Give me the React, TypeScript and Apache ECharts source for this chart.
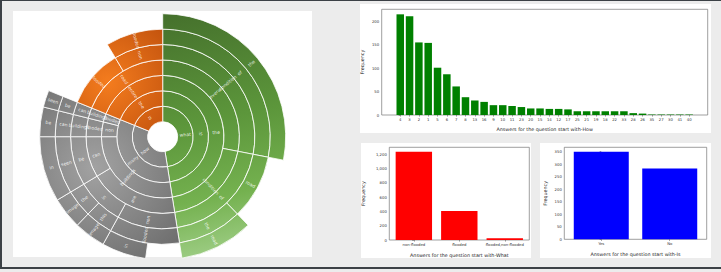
import React, { useEffect, useRef } from "react";
import * as echarts from "echarts";

// ---------- DATA ----------
const questionPaths: string[][] = [
  ["what", "is", "the", "overall", "condition", "of", "the"],
  ["what", "is", "the", "condition", "of", "road"],
  ["what", "is", "the", "condition", "of", "the", "road"],
  ["how", "many", "buildings", "are", "non", "flooded"],
  ["how", "many", "buildings", "are", "non", "flooded", "in"],
  ["how", "many", "buildings", "are", "in", "this", "image"],
  ["how", "many", "buildings", "are", "in", "the", "image"],
  ["how", "many", "buildings", "can", "be", "seen", "in"],
  ["how", "many", "non", "flooded", "buildings", "can", "be"],
  ["how", "many", "flooded", "buildings", "can", "be", "seen"],
  ["is", "the", "entire", "road", "flooded"],
  ["is", "the", "entire", "road", "non", "flooded"],
];
const pathCounts = [101, 35, 35, 17, 21, 15, 15, 31, 14, 8, 37, 31];

const howAnswers = ["4", "3", "2", "1", "5", "6", "7", "8", "13", "16", "9", "10", "11", "23", "20", "15", "14", "12", "17", "25", "21", "19", "18", "22", "33", "28", "26", "35", "27", "30", "41", "40"];
const howCounts = [215, 211, 155, 154, 101, 87, 61, 38, 31, 28, 21, 21, 19, 17, 14, 14, 13, 13, 12, 8, 8, 8, 8, 8, 8, 4, 3, 1, 1, 1, 1, 1];
const howTicks = [0, 50, 100, 150, 200];

const whatAnswers = ["non-flooded", "flooded", "flooded,non-flooded"];
const whatCounts = [1233, 405, 25];
const whatTicks = [0, 200, 400, 600, 800, 1000, 1200];

const isAnswers = ["Yes", "No"];
const isCounts = [350, 283];
const isTicks = [0, 50, 100, 150, 200, 250, 300, 350];

// ---------- HELPERS ----------
type TNode = { name: string; value: number; children: TNode[]; dummy?: boolean };

function buildTree(): TNode[] {
  const root: TNode = { name: "", value: 0, children: [] };
  questionPaths.forEach((path, i) => {
    let node = root;
    path.forEach((w) => {
      let c = node.children.find((n) => n.name === w && !n.dummy);
      if (!c) {
        c = { name: w, value: 0, children: [] };
        node.children.push(c);
      }
      c.value += pathCounts[i];
      node = c;
    });
    let d = node.children.find((n) => n.dummy);
    if (!d) {
      d = { name: "", value: 0, children: [], dummy: true };
      node.children.push(d);
    }
    d.value += pathCounts[i];
  });
  return root.children;
}

const FONT = "DejaVu Sans";

export default function App() {
  const ref = useRef<HTMLDivElement>(null);

  useEffect(() => {
    if (!ref.current) return;
    const chart = echarts.init(ref.current, null, { renderer: "svg" });

    const G = echarts.graphic as any;
    const green = new G.LinearGradient(163, 13, 215, 262, [
      { offset: 0, color: "#45702c" },
      { offset: 0.45, color: "#5c963b" },
      { offset: 0.75, color: "#74b14f" },
      { offset: 1, color: "#a2d08a" },
    ], true);
    const grey = new G.RadialGradient(95, 168, 115, [
      { offset: 0, color: "#a2a2a2" },
      { offset: 1, color: "#6c6c6c" },
    ], true);
    const orange = new G.RadialGradient(108, 82, 75, [
      { offset: 0, color: "#f47c1e" },
      { offset: 1, color: "#c4540e" },
    ], true);
    const colorOf: Record<string, any> = { what: green, how: grey, is: orange };

    const toData = (nodes: TNode[], color: any): any[] => {
      const onlyDummy = (n: TNode) => n.children.length === 1 && n.children[0].dummy;
      return nodes.map((n) => {
        const c = color ?? colorOf[n.name];
        if (n.dummy) {
          return {
            name: "",
            value: n.value,
            itemStyle: { color: "rgba(0,0,0,0)", borderWidth: 0 },
            label: { show: false },
            emphasis: { disabled: true },
          };
        }
        const out: any = { name: n.name, value: n.value, itemStyle: { color: c } };
        if (n.children.length && !onlyDummy(n)) out.children = toData(n.children, c);
        return out;
      });
    };

    const sunData = toData(buildTree(), null);

    const axisText = { fontFamily: FONT, fontSize: 3.8, color: "#333" };
    const nameText = { fontFamily: FONT, fontSize: 4.8, color: "#222" };

    const mkX = (gi: number, labels: string[], min: number, max: number, name: string, gap: number) => ({
      type: "value",
      gridIndex: gi,
      min,
      max,
      axisLine: { show: false },
      splitLine: { show: false },
      axisTick: { show: true, length: 1.6, customValues: labels.map((_, i) => i), lineStyle: { color: "#444", width: 0.5 } },
      axisLabel: {
        ...axisText,
        margin: 2.5,
        customValues: labels.map((_, i) => i),
        formatter: (v: number) => labels[Math.round(v)] ?? "",
      },
      name,
      nameLocation: "middle",
      nameGap: gap,
      nameTextStyle: nameText,
    });
    const mkY = (gi: number, ticks: number[], max: number, gap: number) => ({
      type: "value",
      gridIndex: gi,
      min: 0,
      max,
      axisLine: { show: false },
      splitLine: { show: false },
      axisTick: { show: true, length: 1.6, customValues: ticks, lineStyle: { color: "#444", width: 0.5 } },
      axisLabel: { ...axisText, margin: 2.5, customValues: ticks },
      name: "Frequency",
      nameLocation: "middle",
      nameRotate: 90,
      nameGap: gap,
      nameTextStyle: nameText,
    });

    const gridBox = { show: true, borderColor: "#777", borderWidth: 0.7, backgroundColor: "#fff", containLabel: false };

    chart.setOption({
      animation: false,
      grid: [
        { ...gridBox, left: 381.7, top: 9.3, width: 326, height: 105.7 },
        { ...gridBox, left: 389.3, top: 147.3, width: 140, height: 92.7 },
        { ...gridBox, left: 564.3, top: 147.3, width: 142.4, height: 92 },
      ],
      xAxis: [
        mkX(0, howAnswers, -1.99, 32.99, "Answers for the question start with-How", 11.5),
        mkX(1, whatAnswers, -0.54, 2.54, "Answers for the question start with-What", 12.5),
        mkX(2, isAnswers, -0.54, 1.54, "Answers for the question start with-Is", 13),
      ],
      yAxis: [
        mkY(0, howTicks, Math.max(...howCounts) * 1.05, 17),
        mkY(1, whatTicks, Math.max(...whatCounts) * 1.05, 23),
        mkY(2, isTicks, Math.max(...isCounts) * 1.05, 16),
      ],
      series: [
        {
          type: "sunburst",
          center: [162.7, 136.7],
          radius: [15, 123],
          sort: null,
          nodeClick: false,
          startAngle: 90,
          data: sunData,
          itemStyle: { borderColor: "#fff", borderWidth: 0.8 },
          label: {
            rotate: "radial",
            fontFamily: FONT,
            fontSize: 4.6,
            color: "rgba(255,255,255,0.85)",
            textBorderWidth: 0,
            textBorderColor: "transparent",
          },
          emphasis: { disabled: true },
        },
        {
          type: "bar",
          xAxisIndex: 0,
          yAxisIndex: 0,
          barWidth: 7.5,
          itemStyle: { color: "#008000" },
          data: howCounts.map((v, i) => [i, v]),
        },
        {
          type: "bar",
          xAxisIndex: 1,
          yAxisIndex: 1,
          barWidth: 36.4,
          itemStyle: { color: "#ff0000" },
          data: whatCounts.map((v, i) => [i, v]),
        },
        {
          type: "bar",
          xAxisIndex: 2,
          yAxisIndex: 2,
          barWidth: 55,
          itemStyle: { color: "#0000ff" },
          data: isCounts.map((v, i) => [i, v]),
        },
      ],
    });

    return () => chart.dispose();
  }, []);

  const panel = (l: number, t: number, r: number, b: number): React.CSSProperties => ({
    position: "absolute",
    left: l,
    top: t,
    width: r - l,
    height: b - t,
    background: "#fff",
  });

  return (
    <div
      style={{
        position: "fixed",
        left: 0,
        top: 0,
        width: 721,
        height: 272,
        background: "#ececec",
        overflow: "hidden",
      }}
    >
      <div style={panel(13, 11, 312, 257)} />
      <div style={panel(360, 4, 711, 133)} />
      <div style={panel(361, 143, 531, 258)} />
      <div style={panel(540, 143, 711, 258)} />
      <div
        style={{
          position: "absolute",
          left: 0,
          top: 0,
          width: 721,
          height: 269,
          boxSizing: "border-box",
          borderTop: "1px solid #3c4146",
          borderLeft: "2px solid #3c4146",
          borderBottom: "2px solid #3c4146",
          pointerEvents: "none",
        }}
      />
      <div ref={ref} style={{ position: "absolute", left: 0, top: 0, width: 721, height: 272 }} />
    </div>
  );
}
